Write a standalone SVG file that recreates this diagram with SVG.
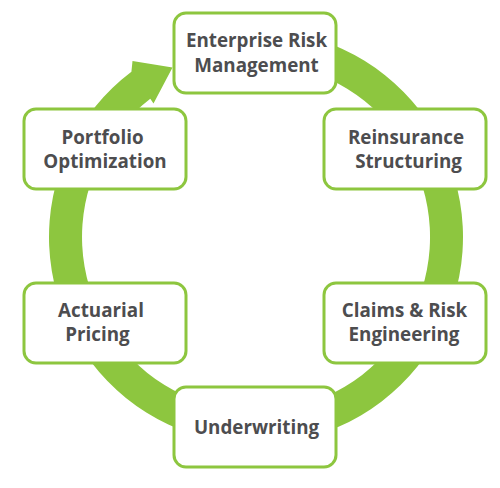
<svg xmlns="http://www.w3.org/2000/svg" width="500" height="488" viewBox="0 0 500 488">
<style>
.box{fill:#ffffff;stroke:#8dc63f;stroke-width:3}
.lbl{font-family:"Open Sans","Liberation Sans",sans-serif;font-weight:700;font-size:18.8px;fill:#4d4d4f;text-anchor:middle}
.ring{fill:#8dc63f}
</style>
<rect width="500" height="488" fill="#ffffff"/>
<g id="connectors">
<path class="ring" d="M220.05,33.14 A207,207 0 1 1 131.42,71.68 L132.5,61 L172.5,67.5 L153.5,103.5 L150.3,98.8 A174,174 0 1 0 225.79,65.64 Z"/>
</g>
<g id="node-erm">
<rect class="box" x="174" y="13" width="162" height="80" rx="12"/>
<text class="lbl"><tspan x="256.5" y="47">Enterprise Risk</tspan><tspan x="256.5" y="71.5">Management</tspan></text>
</g>
<g id="node-reinsurance">
<rect class="box" x="324" y="109" width="162" height="80" rx="12"/>
<text class="lbl"><tspan x="406" y="144">Reinsurance</tspan><tspan x="408.5" y="168">Structuring</tspan></text>
</g>
<g id="node-claims">
<rect class="box" x="324" y="283" width="162" height="80" rx="12"/>
<text class="lbl"><tspan x="404.5" y="317">Claims &amp; Risk</tspan><tspan x="404" y="341">Engineering</tspan></text>
</g>
<g id="node-underwriting">
<rect class="box" x="174" y="387" width="162" height="80" rx="12"/>
<text class="lbl" x="256.5" y="434">Underwriting</text>
</g>
<g id="node-actuarial">
<rect class="box" x="24" y="283" width="162" height="80" rx="12"/>
<text class="lbl"><tspan x="101" y="317">Actuarial</tspan><tspan x="97.5" y="341">Pricing</tspan></text>
</g>
<g id="node-portfolio">
<rect class="box" x="24" y="109" width="162" height="80" rx="12"/>
<text class="lbl"><tspan x="102.5" y="144">Portfolio</tspan><tspan x="105" y="168">Optimization</tspan></text>
</g>
</svg>
